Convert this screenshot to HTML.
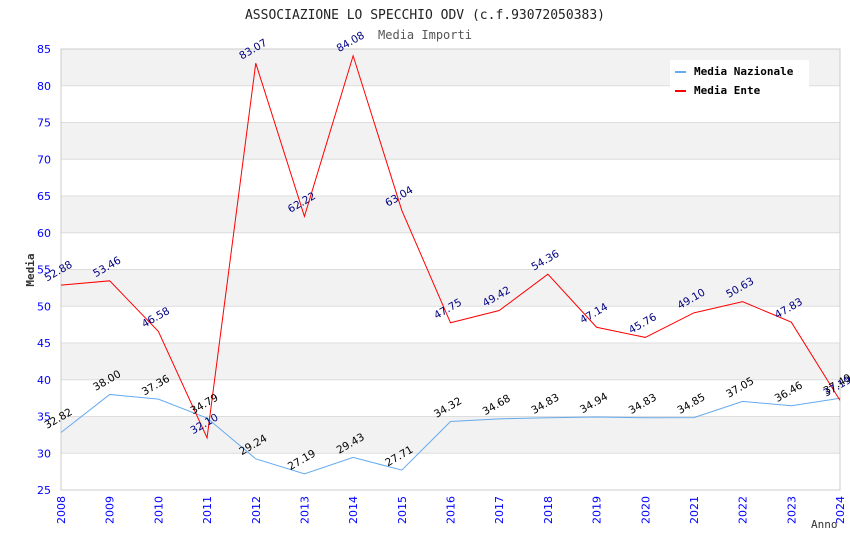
<!DOCTYPE html>
<html><head><meta charset="utf-8"><style>
body{margin:0;background:#fff}
svg{display:block;font-family:"DejaVu Sans Mono","Liberation Mono",monospace}
</style></head><body>
<svg id="c" width="850" height="550">
<text x="425" y="19" text-anchor="middle" font-size="13" fill="#222">ASSOCIAZIONE LO SPECCHIO ODV (c.f.93072050383)</text>
<text x="425" y="39" text-anchor="middle" font-size="12" fill="#555">Media Importi</text>
<g id="bands"></g><g id="grid"></g><g id="axes"></g><g id="series"></g><g id="labels"></g>
<text x="34" y="270" font-size="11" font-weight="bold" fill="#333" transform="rotate(-90 34 270)" text-anchor="middle">Media</text>
<text x="811" y="528" font-size="11" fill="#333">Anno</text>
<g>
<rect x="670" y="60" width="139" height="40" fill="#fff"/>
<line x1="675" y1="72" x2="686" y2="72" stroke="#66aaee" stroke-width="2"/>
<text x="694" y="75" font-size="11" font-weight="bold" fill="#000">Media Nazionale</text>
<line x1="675" y1="91" x2="686" y2="91" stroke="#f00" stroke-width="2"/>
<text x="694" y="94" font-size="11" font-weight="bold" fill="#000">Media Ente</text>
</g>
</svg>
<script>
const years=[2008,2009,2010,2011,2012,2013,2014,2015,2016,2017,2018,2019,2020,2021,2022,2023,2024];
const nazionale=[32.82,38.00,37.36,34.79,29.24,27.19,29.43,27.71,34.32,34.68,34.83,34.94,34.83,34.85,37.05,36.46,37.49];
const ente=[52.88,53.46,46.58,32.10,83.07,62.22,84.08,63.04,47.75,49.42,54.36,47.14,45.76,49.10,50.63,47.83,37.19];
const yTicks=[25,30,35,40,45,50,55,60,65,70,75,80,85];
const X0=61,X1=840,Y0=490,Y1=49,ymin=25,ymax=85;
const NS="http://www.w3.org/2000/svg";
const xs=i=>X0+(X1-X0)*i/(years.length-1);
const ys=v=>Y0-(v-ymin)/(ymax-ymin)*(Y0-Y1);
function mk(p,t,a){const e=document.createElementNS(NS,t);for(const k in a)e.setAttribute(k,a[k]);document.getElementById(p).appendChild(e);return e;}
for(let i=0;i<yTicks.length-1;i++){
 if((yTicks.length-2-i)%2===0){const r=mk('bands','rect',{x:X0,y:ys(yTicks[i+1]),width:X1-X0,height:ys(yTicks[i])-ys(yTicks[i+1]),fill:'#f2f2f2'});
 
 }
}
yTicks.forEach(v=>{
 const l=mk('grid','line',{x1:X0,x2:X1,y1:ys(v),y2:ys(v),stroke:'#ddd'});
 
 
 const t=mk('axes','text',{x:X0-10,y:ys(v)+4,'text-anchor':'end','font-size':11,fill:'#00f',style:'font-family:"DejaVu Sans","Liberation Sans",sans-serif'});
 t.textContent=v;
 
 
});
mk('axes','rect',{x:X0,y:Y1,width:X1-X0,height:Y0-Y1,fill:'none',stroke:'#ccc'});
years.forEach((yr,i)=>{
 const x=xs(i),y=Y0+6;
 const t=mk('axes','text',{x:x+4,y:y,'text-anchor':'end','font-size':11,fill:'#00f',transform:`rotate(-90 ${x+4} ${y})`,style:'font-family:"DejaVu Sans","Liberation Sans",sans-serif'});
 t.textContent=yr;
 
 
});
function line(data,color,name){
 const pts=data.map((v,i)=>xs(i)+','+ys(v)).join(' ');
 const p=mk('series','polyline',{points:pts,fill:'none',stroke:color,'stroke-width':1});
 
 
}
line(nazionale,'#66aaee','line-media-nazionale');
line(ente,'#ff0000','line-media-ente');
function labels(data,color,name){
 data.forEach((v,i)=>{
  const x=xs(i)-1,y=ys(v)-11;
  const t=mk('labels','text',{x:x,y:y,'text-anchor':'middle','font-size':10.5,fill:color,transform:`rotate(-30 ${x} ${y})`,style:'font-family:"DejaVu Sans","Liberation Sans",sans-serif'});
  t.textContent=v.toFixed(2);
  
  
 });
}
labels(nazionale,'#000','value-label-nazionale');
labels(ente,'#000080','value-label-ente');
</script>
</body></html>
